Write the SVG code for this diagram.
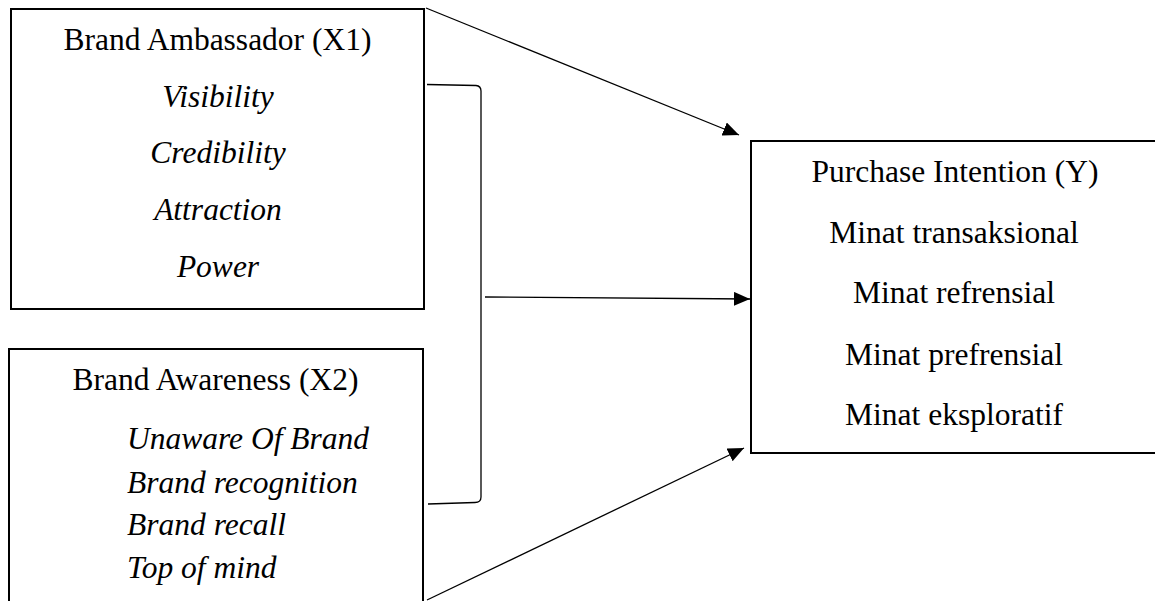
<svg xmlns="http://www.w3.org/2000/svg" width="1155" height="601" viewBox="0 0 1155 601">
<style>
.box{fill:#fff;stroke:#000;stroke-width:2}
.t{font-family:"Liberation Serif","Times New Roman",serif;font-size:31.5px;fill:#000}
.c{text-anchor:middle}
.i{font-style:italic}
.conn{fill:none;stroke:#000;stroke-width:1.3}
</style>
<defs>
<marker id="ah" markerUnits="userSpaceOnUse" markerWidth="17" markerHeight="14" refX="16" refY="7" orient="auto">
<path d="M0,0 L16,7 L0,14 z" fill="#000"/>
</marker>
</defs>
<rect width="1155" height="601" fill="#fff"/>
<g id="x1">
<rect class="box" x="11" y="9" width="413" height="300"/>
<text class="t c" x="217.5" y="50">Brand Ambassador (X1)</text>
<text class="t c i" x="218" y="107">Visibility</text>
<text class="t c i" x="218" y="163">Credibility</text>
<text class="t c i" x="218" y="220">Attraction</text>
<text class="t c i" x="218" y="277">Power</text>
</g>
<g id="x2">
<rect class="box" x="9" y="349" width="414" height="280"/>
<text class="t c" x="215.5" y="390">Brand Awareness (X2)</text>
<text class="t i" x="127" y="449">Unaware Of Brand</text>
<text class="t i" x="127" y="493">Brand recognition</text>
<text class="t i" x="127" y="535">Brand recall</text>
<text class="t i" x="127" y="578">Top of mind</text>
</g>
<g id="y">
<rect class="box" x="751" y="141" width="420" height="312"/>
<text class="t c" x="955" y="182">Purchase Intention (Y)</text>
<text class="t c" x="954" y="243">Minat transaksional</text>
<text class="t c" x="954" y="303">Minat refrensial</text>
<text class="t c" x="954" y="365">Minat prefrensial</text>
<text class="t c" x="954" y="425">Minat eksploratif</text>
</g>
<g id="connectors">
<path class="conn" d="M427,84.5 L476,85.5 Q481,86 481,91 L481,497 Q481,502.5 475,502.5 L428,504"/>
<line class="conn" x1="426" y1="8" x2="739" y2="135" marker-end="url(#ah)"/>
<line class="conn" x1="485" y1="297" x2="750" y2="299" marker-end="url(#ah)"/>
<line class="conn" x1="427" y1="600" x2="744" y2="448" marker-end="url(#ah)"/>
</g>
</svg>
